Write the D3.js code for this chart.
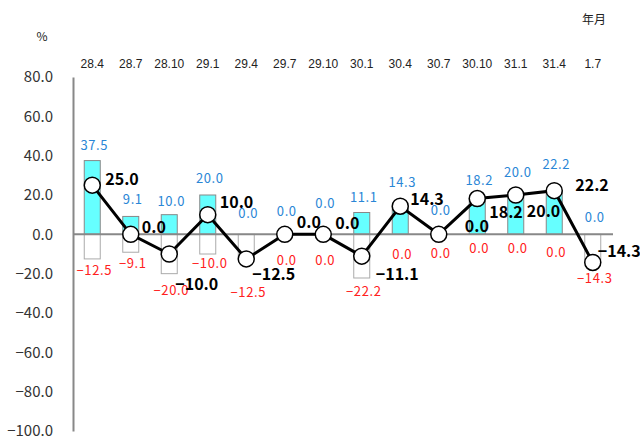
<!DOCTYPE html>
<html>
<head>
<meta charset="utf-8">
<script src="https://cdn.jsdelivr.net/npm/d3@7"></script>
<style>
  body { margin: 0; background: #fff; }
  svg { display: block; font-family: "Noto Sans CJK JP", "Noto Sans", sans-serif; }
</style>
</head>
<body>
<svg id="chart" width="640" height="441"></svg>
<script>
// 年月 (period) labels
var periods = ['28.4','28.7','28.10','29.1','29.4','29.7','29.10','30.1','30.4','30.7','30.10','31.1','31.4','1.7'];
// upward share (cyan bars)
var riseRate = [37.5, 9.1, 10.0, 20.0, 0.0, 0.0, 0.0, 11.1, 14.3, 0.0, 18.2, 20.0, 22.2, 0.0];
// downward share (white bars)
var fallRate = [-12.5, -9.1, -20.0, -10.0, -12.5, 0.0, 0.0, -22.2, 0.0, 0.0, 0.0, 0.0, 0.0, -14.3];
// net (line)
var netRate = [25.0, 0.0, -10.0, 10.0, -12.5, 0.0, 0.0, -11.1, 14.3, 0.0, 18.2, 20.0, 22.2, -14.3];
var yTicks = [80, 60, 40, 20, 0, -20, -40, -60, -80, -100];

// label placement tweaks (pixels), kept apart from the data
var riseLabelDy = [-16, -18, -14, -18, -22, -24, -32, -16, -25, -25, -19, -24, -27, -18];
var fallLabelDy = [11, 10, 16, 8, 33, 25, 25, 13, 19, 18, 13, 13, 17, 15];
var netLabelOff = [[13,-7],[11,-8],[6,29],[12,-14],[6,14],[12,-13],[12,-12],[14,17],[10,-8],[26,-9],[12,12],[11,15],[21,-7],[5,-12]];

var fmt = function(v) { return (v < 0 ? '\u2212' : '') + Math.abs(v).toFixed(1); };

var svg = d3.select('#chart');

var x = d3.scaleBand()
    .domain(periods)
    .range([73, 612]);

var y = d3.scaleLinear()
    .domain([-100, 80])
    .range([431, 77]);

var barW = 16;
var cx = function(i) { return x(periods[i]) + x.bandwidth() / 2; };

// y axis
var yAxis = d3.axisLeft(y).tickValues(yTicks).tickSize(0).tickPadding(20).tickFormat(fmt);
var gy = svg.append('g').attr('transform', 'translate(73,0)').call(yAxis);
gy.select('.domain').attr('stroke', '#888').attr('stroke-width', 2);
gy.selectAll('text')
    .attr('font-size', 15)
    .attr('fill', '#333')
    .attr('font-family', '"Noto Sans CJK JP", sans-serif');

// category labels along the top
var xAxis = d3.axisTop(x).tickSize(0).tickPadding(0);
var gx = svg.append('g').attr('transform', 'translate(0,68)').call(xAxis);
gx.select('.domain').remove();
gx.selectAll('text')
    .attr('font-size', 12)
    .attr('fill', '#222')
    .attr('font-family', '"Liberation Sans", Arial, sans-serif');

svg.append('text').attr('x', 42).attr('y', 41).attr('text-anchor', 'middle')
    .attr('font-size', 12).attr('fill', '#222').text('%');
svg.append('text').attr('x', 594).attr('y', 24).attr('text-anchor', 'middle')
    .attr('font-size', 12).attr('fill', '#222').text('年月');

// rise bars
svg.append('g').selectAll('rect').data(riseRate).enter().append('rect')
    .attr('x', (d, i) => cx(i) - barW / 2)
    .attr('y', d => y(d))
    .attr('width', barW)
    .attr('height', d => y(0) - y(d))
    .attr('fill', '#66ffff')
    .attr('stroke', '#888')
    .attr('stroke-width', 1);

// fall bars
svg.append('g').selectAll('rect').data(fallRate).enter().append('rect')
    .attr('x', (d, i) => cx(i) - barW / 2)
    .attr('y', y(0))
    .attr('width', barW)
    .attr('height', d => y(d) - y(0))
    .attr('fill', '#fff')
    .attr('stroke', '#aaa')
    .attr('stroke-width', 1);

// zero line
svg.append('line')
    .attr('x1', 73).attr('x2', 613)
    .attr('y1', y(0)).attr('y2', y(0))
    .attr('stroke', '#888').attr('stroke-width', 2);

// bar labels
svg.append('g').selectAll('text').data(riseRate).enter().append('text')
    .attr('x', (d, i) => cx(i) + 2)
    .attr('y', (d, i) => y(d) + riseLabelDy[i])
    .attr('text-anchor', 'middle')
    .attr('dominant-baseline', 'central')
    .attr('font-size', 13)
    .attr('letter-spacing', 0.6)
    .attr('fill', '#2a86d6')
    .text(fmt);

svg.append('g').selectAll('text').data(fallRate).enter().append('text')
    .attr('x', (d, i) => cx(i) + 2)
    .attr('y', (d, i) => y(d) + fallLabelDy[i])
    .attr('text-anchor', 'middle')
    .attr('dominant-baseline', 'central')
    .attr('font-size', 13)
    .attr('letter-spacing', 0.6)
    .attr('fill', '#ff2020')
    .text(fmt);

// net line
var line = d3.line()
    .x((d, i) => cx(i))
    .y(d => y(d));

svg.append('path')
    .datum(netRate)
    .attr('d', line)
    .attr('fill', 'none')
    .attr('stroke', '#000')
    .attr('stroke-width', 3);

svg.append('g').selectAll('circle').data(netRate).enter().append('circle')
    .attr('cx', (d, i) => cx(i))
    .attr('cy', d => y(d))
    .attr('r', 8)
    .attr('fill', '#fff')
    .attr('stroke', '#000')
    .attr('stroke-width', 1.5);

svg.append('g').selectAll('text').data(netRate).enter().append('text')
    .attr('x', (d, i) => cx(i) + netLabelOff[i][0])
    .attr('y', (d, i) => y(d) + netLabelOff[i][1])
    .attr('dominant-baseline', 'central')
    .attr('font-size', 16)
    .attr('font-weight', 'bold')
    .attr('fill', '#000')
    .text(fmt);
</script>
</body>
</html>
